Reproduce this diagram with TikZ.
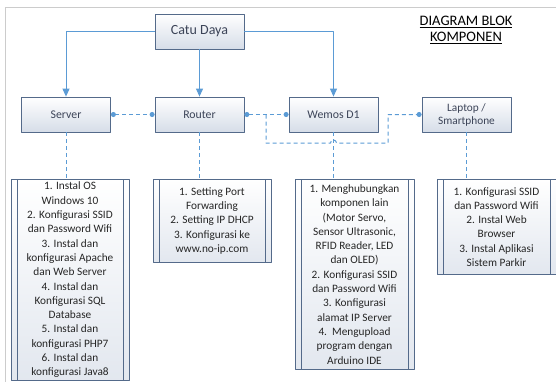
\documentclass[tikz,border=0pt]{standalone}
\usepackage{fontspec}
\setmainfont{Carlito}
\usetikzlibrary{arrows.meta}
\definecolor{garis}{RGB}{91,155,213}
\definecolor{tepi}{RGB}{84,106,138}
\definecolor{teks}{RGB}{60,68,88}
\definecolor{isi}{RGB}{214,221,232}
\begin{document}
\begin{tikzpicture}[x=1pt, y=-1pt, font=\fontsize{11.3}{14.3}\selectfont, line join=round,
  blok/.style={draw=tepi, line width=0.8pt, top color=white, bottom color=isi, text=teks, minimum width=89pt, minimum height=35pt, align=center, inner sep=2pt, font=\fontsize{11.8}{13}\selectfont},
  daftar/.style={draw=tepi, line width=0.8pt, top color=white, bottom color=isi!70, text=black!85, anchor=north, align=center, inner sep=0pt,
    path picture={\draw[tepi, line width=0.8pt] ([xshift=6pt]path picture bounding box.north west) -- ([xshift=6pt]path picture bounding box.south west)
      ([xshift=-6pt]path picture bounding box.north east) -- ([xshift=-6pt]path picture bounding box.south east);}},
  panah/.style={draw=garis, line width=1pt, -{Triangle[width=7pt,length=8pt]}},
  putus/.style={draw=garis, line width=1pt, dash pattern=on 4pt off 3pt},
  titik/.style={putus, {Circle[length=5pt]}-{Circle[length=5pt]}}]
\useasboundingbox (0,0) rectangle (556,381);
\draw[black!20] (5,390) -- (5,7) -- (570,7);
% blok utama
\node[blok, font=\fontsize{14}{15}\selectfont] (catu) at (199.5,31.5) {Catu Daya};
\node[blok] (server) at (66,114.5) {Server};
\node[blok] (router) at (199.5,114.5) {Router};
\node[blok] (wemos) at (333.5,114.5) {Wemos D1};
\node[blok, font=\fontsize{11.3}{13}\selectfont] (laptop) at (466.5,114.5) {Laptop /\\Smartphone};
\node[font=\fontsize{14.5}{16}\selectfont, align=center] (judul) at (466,30) {\underline{DIAGRAM BLOK}\\\underline{KOMPONEN}};
% daftar langkah
\node[daftar, minimum width=118pt, minimum height=201pt] (lserver) at (70,179) {1. Instal OS\\Windows 10\\2. Konfigurasi SSID\\dan Password Wifi\\3. Instal dan\\konfigurasi Apache\\dan Web Server\\4. Instal dan\\Konfigurasi SQL\\Database\\5. Instal dan\\konfigurasi PHP7\\6. Instal dan\\konfigurasi Java8};
\node[daftar, minimum width=118pt, minimum height=83pt] (lrouter) at (212,179) {1. Setting Port\\Forwarding\\2. Setting IP DHCP\\3. Konfigurasi ke\\www.no-ip.com};
\node[daftar, minimum width=119pt, minimum height=190pt] (lwemos) at (354.5,179) {1. Menghubungkan\\komponen lain\\(Motor Servo,\\Sensor Ultrasonic,\\RFID Reader, LED\\dan OLED)\\2. Konfigurasi SSID\\dan Password Wifi\\3. Konfigurasi\\alamat IP Server\\4.\ \ Mengupload\\program dengan\\Arduino IDE};
\node[daftar, minimum width=119pt, minimum height=95pt] (llaptop) at (496.5,179) {1. Konfigurasi SSID\\dan Password Wifi\\2. Instal Web\\Browser\\3. Instal Aplikasi\\Sistem Parkir};
% catu daya
\draw[panah] (catu.west) -| (server.north);
\draw[panah] (catu.south) -- (router.north);
\draw[panah] (catu.east) -| (wemos.north);
% jaringan
\draw[titik] (server.east) -- (router.west);
\draw[titik] (router.east) -- (wemos.west);
\coordinate (cabang) at (266,114.5);
\draw[putus, -{Circle[length=5pt]}] (cabang) -- (266,143) -- (330.5,143) arc[start angle=180, end angle=360, radius=3] -- (388,143) -- (388,114.5) -- (laptop.west);
% ke daftar
\draw[putus] (server.south) -- (server.south |- lserver.north);
\draw[putus] (router.south) -- (router.south |- lrouter.north);
\draw[putus] (wemos.south) -- (wemos.south |- lwemos.north);
\draw[putus] (laptop.south) -- (laptop.south |- llaptop.north);
\end{tikzpicture}
\end{document}
